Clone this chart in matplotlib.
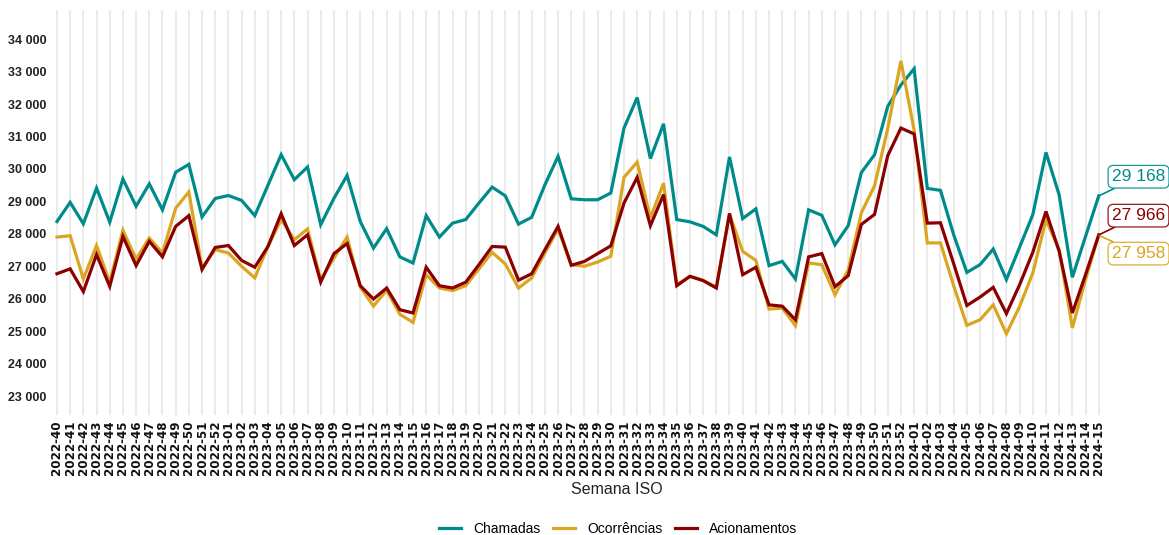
import matplotlib

matplotlib.use("Agg")
import matplotlib.pyplot as plt

plt.rcParams["font.family"] = ["Liberation Sans", "DejaVu Sans"]

# ISO weeks 2022-40 .. 2024-15
semanas = ([f"2022-{w:02d}" for w in range(40, 53)]
           + [f"2023-{w:02d}" for w in range(1, 53)]
           + [f"2024-{w:02d}" for w in range(1, 16)])

chamadas = [
    28380, 28970, 28310, 29410, 28360, 29690, 28850, 29540, 28740, 29900,
    30140, 28520, 29090, 29180, 29030, 28560, 29500, 30440, 29670, 30060,
    28280, 29090, 29800, 28380, 27560, 28160, 27290, 27100, 28560, 27900,
    28330, 28440, 28950, 29440, 29170, 28300, 28510, 29510, 30390, 29080,
    29050, 29050, 29260, 31260, 32200, 30320, 31390, 28440, 28370, 28230,
    27970, 30370, 28470, 28770, 27020, 27150, 26610, 28740, 28570, 27660,
    28250, 29890, 30440, 31930, 32590, 33090, 29400, 29340, 27970, 26810,
    27050, 27530, 26590, 27590, 28590, 30510, 29200, 26660, 27920, 29168,
]
ocorrencias = [
    27900, 27940, 26610, 27640, 26510, 28110, 27220, 27870, 27410, 28790,
    29290, 26950, 27510, 27410, 27000, 26640, 27610, 28440, 27820, 28150,
    26590, 27250, 27900, 26360, 25770, 26260, 25520, 25270, 26740, 26330,
    26250, 26400, 26920, 27430, 27070, 26330, 26640, 27410, 28150, 27050,
    27000, 27130, 27310, 29740, 30210, 28490, 29560, 26430, 26690, 26560,
    26360, 28600, 27460, 27180, 25680, 25710, 25170, 27100, 27050, 26120,
    26880, 28650, 29480, 31250, 33330, 31200, 27720, 27720, 26400, 25180,
    25350, 25810, 24920, 25760, 26790, 28430, 27510, 25100, 26590, 27958,
]
acionamentos = [
    26770, 26920, 26220, 27360, 26380, 27920, 27020, 27770, 27290, 28230,
    28560, 26900, 27580, 27640, 27180, 26970, 27610, 28620, 27640, 27970,
    26510, 27390, 27700, 26400, 25990, 26330, 25660, 25560, 26970, 26400,
    26330, 26510, 27050, 27610, 27590, 26570, 26770, 27510, 28230, 27030,
    27150, 27390, 27630, 28950, 29740, 28250, 29210, 26400, 26690, 26560,
    26330, 28630, 26740, 26970, 25810, 25770, 25350, 27290, 27390, 26370,
    26710, 28290, 28600, 30410, 31260, 31080, 28330, 28340, 27080, 25790,
    26050, 26350, 25540, 26430, 27430, 28690, 27460, 25560, 26740, 27966,
]

series = [("Chamadas", chamadas, "#008B8B"),
          ("Ocorrências", ocorrencias, "#DAA520"),
          ("Acionamentos", acionamentos, "#8B0000")]
yticks = list(range(23000, 34001, 1000))


def fmt(v):
    return f"{v:,}".replace(",", " ")


W, H = 1169, 535
fig = plt.figure(figsize=(W / 100, H / 100), dpi=100)
ax = fig.add_axes([51.7 / W, 1 - 415 / H, (1104 - 51.7) / W, 405 / H])

x = list(range(len(semanas)))
for xi in x:
    ax.axvline(xi, color="#ebebeb", lw=1.5, zorder=0)

for name, vals, col in series:
    ax.plot(x, vals, color=col, lw=2.3, label=name, solid_joinstyle="miter")

ax.set_xlim(-0.4, len(semanas) - 0.6)
ax.set_ylim(22415, 34900)
ax.set_yticks(yticks)
ax.set_yticklabels([fmt(v) for v in yticks], fontsize=9, fontweight="bold",
                   color="#222222")
ax.set_xticks(x)
ax.set_xticklabels(semanas, rotation=90, fontsize=8.6, fontweight="bold",
                   family="DejaVu Sans", color="#111111")
ax.tick_params(length=0, axis="y", pad=4)
ax.tick_params(length=0, axis="x", pad=4)
for s in ax.spines.values():
    s.set_visible(False)

fig.text(617 / W, 1 - 489 / H, "Semana ISO", ha="center", va="center",
         fontsize=11.5, color="#222222")

# end-of-line labels (repelled to the right of the last point)
label_y = {"Chamadas": 29760, "Acionamentos": 28560, "Ocorrências": 27390}
for name, vals, col in series:
    ax.annotate(fmt(vals[-1]), xy=(x[-1], vals[-1]),
                xytext=(x[-1] + 1.0, label_y[name]),
                ha="left", va="center", fontsize=12.5, color=col,
                annotation_clip=False,
                bbox=dict(boxstyle="round,pad=0.22,rounding_size=0.3",
                          fc="white", ec=col, lw=0.9, alpha=0.9),
                arrowprops=dict(arrowstyle="-", color=col, lw=1.2,
                                shrinkA=0, shrinkB=0))

handles, labels = ax.get_legend_handles_labels()
fig.legend(handles, labels, loc="center", bbox_to_anchor=(618 / W, 1 - 529 / H),
           ncol=3, frameon=False, fontsize=10, handlelength=1.6,
           columnspacing=0.9, handletextpad=0.85)

fig.savefig("out.png", dpi=100)
